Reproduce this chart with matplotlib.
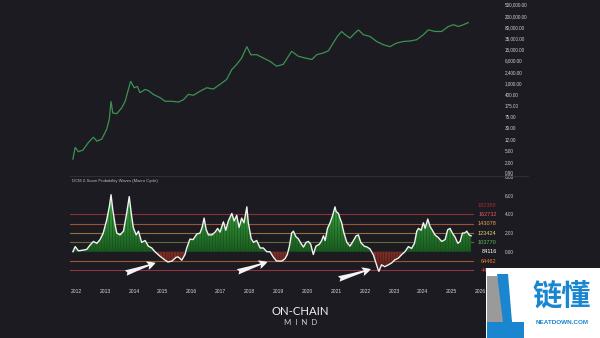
import numpy as np
import matplotlib
matplotlib.use('Agg')
import matplotlib.pyplot as plt
from matplotlib.patches import Rectangle, Polygon
from matplotlib.lines import Line2D
from matplotlib.path import Path
from matplotlib.colors import LinearSegmentedColormap

plt.rcParams['hatch.linewidth'] = 0.4

BG = '#1c1b21'

# ---------------- data ----------------
price_years = [2011.89, 2011.97, 2012.08, 2012.24, 2012.43, 2012.60, 2012.72, 2012.89, 2013.06, 2013.15,
               2013.21, 2013.27, 2013.41, 2013.58, 2013.70, 2013.81, 2013.89, 2014.01, 2014.12, 2014.21,
               2014.39, 2014.50, 2014.67, 2014.91, 2015.08, 2015.31, 2015.54, 2015.71, 2015.89, 2016.06,
               2016.29, 2016.52, 2016.75, 2016.98, 2017.21, 2017.39, 2017.56, 2017.73, 2017.91, 2018.05,
               2018.25, 2018.48, 2018.71, 2018.94, 2019.17, 2019.35, 2019.46, 2019.69, 2019.92, 2020.16,
               2020.33, 2020.56, 2020.73, 2020.90, 2021.04, 2021.19, 2021.31, 2021.48, 2021.65, 2021.77,
               2021.94, 2022.17, 2022.40, 2022.63, 2022.86, 2023.10, 2023.33, 2023.56, 2023.79, 2024.02,
               2024.19, 2024.42, 2024.65, 2024.88, 2025.06, 2025.23, 2025.40, 2025.57]
price_values = [2.7, 6.8, 4.8, 5.5, 10, 15, 11, 13, 28, 61,
                250, 100, 95, 150, 250, 630, 1200, 720, 800, 490,
                630, 580, 430, 330, 250, 250, 235, 280, 430, 400,
                550, 720, 650, 940, 1380, 3000, 4500, 7400, 18000, 9500,
                9600, 7400, 5700, 3900, 4500, 8500, 12500, 8500, 7400, 6600,
                9600, 11000, 13000, 24000, 40000, 59000, 46000, 35000, 52000, 67000,
                46000, 40000, 27000, 21000, 18000, 24000, 27000, 28000, 31000, 46000,
                67000, 59000, 59000, 87000, 100000, 87000, 100000, 118000]

z_years = [2011.89, 2011.97, 2012.08, 2012.20, 2012.37, 2012.48, 2012.60, 2012.72, 2012.83, 2012.94,
           2013.06, 2013.15, 2013.21, 2013.27, 2013.35, 2013.41, 2013.52, 2013.64, 2013.75, 2013.84,
           2013.91, 2013.98, 2014.08, 2014.16, 2014.27, 2014.39, 2014.50, 2014.62, 2014.73, 2014.91,
           2015.08, 2015.18, 2015.32, 2015.46, 2015.53, 2015.66, 2015.77, 2015.83, 2015.94, 2016.05,
           2016.18, 2016.29, 2016.37, 2016.43, 2016.50, 2016.58, 2016.70, 2016.81, 2016.90, 2016.98,
           2017.10, 2017.18, 2017.27, 2017.39, 2017.47, 2017.56, 2017.64, 2017.73, 2017.81, 2017.91,
           2017.96, 2018.06, 2018.14, 2018.25, 2018.37, 2018.48, 2018.60, 2018.71, 2018.83, 2018.94,
           2019.12, 2019.23, 2019.31, 2019.38, 2019.46, 2019.52, 2019.61, 2019.69, 2019.78, 2019.87,
           2019.96, 2020.04, 2020.12, 2020.21, 2020.30, 2020.42, 2020.50, 2020.56, 2020.62, 2020.70,
           2020.79, 2020.87, 2020.96, 2021.00, 2021.08, 2021.13, 2021.19, 2021.27, 2021.37, 2021.48,
           2021.60, 2021.69, 2021.77, 2021.85, 2021.97, 2022.07, 2022.17, 2022.29, 2022.40, 2022.45,
           2022.48, 2022.57, 2022.68, 2022.81, 2022.92, 2023.04, 2023.15, 2023.27, 2023.38, 2023.50,
           2023.61, 2023.71, 2023.79, 2023.85, 2023.94, 2024.02, 2024.08, 2024.17, 2024.25, 2024.33,
           2024.42, 2024.54, 2024.65, 2024.77, 2024.86, 2024.94, 2025.02, 2025.11, 2025.21, 2025.29,
           2025.37, 2025.45, 2025.52, 2025.60, 2025.67]
z_values = [0.0, 0.55, 0.1, 0.15, 0.25, 0.7, 1.1, 0.9, 1.3, 2.0,
            3.4, 4.8, 6.1, 4.5, 2.9, 2.0, 1.8, 2.2, 4.1, 5.9,
            4.1, 2.6, 1.8, 2.2, 1.0, 1.2, 0.6, 0.4, 0.0, -0.5,
            -0.9, -1.1, -1.0, -0.6, -0.55, -0.9, -0.3, 0.4, 1.35, 1.3,
            1.9, 2.0, 2.7, 3.6, 2.4, 1.8, 1.8, 2.1, 2.5, 2.1,
            3.2, 2.3, 3.3, 4.1, 3.3, 3.9, 2.6, 3.6, 3.1, 4.8,
            3.1, 1.4, 1.0, 1.2, 0.4, 0.4, 0.0, 0.0, -0.6, -1.0,
            -1.0, -0.75, -0.3, 0.55, 2.0, 2.2, 1.6, 1.4, 0.9, 0.5,
            1.0, 1.1, 0.8, -0.3, 0.6, 0.8, 1.2, 1.7, 1.2, 2.5,
            3.1, 3.8, 4.8, 4.3, 4.1, 3.6, 3.1, 2.0, 1.0, 0.6,
            1.2, 1.7, 1.8, 1.0, 0.6, 0.5, 0.3, -0.35, -1.4, -1.9,
            -2.1, -1.4, -1.6, -1.4, -1.2, -0.85, -0.7, -0.3, 0.0, 0.55,
            0.35, 0.9, 2.2, 2.5, 2.3, 3.1, 2.5, 3.5, 2.7, 2.3,
            1.8, 1.5, 1.1, 1.3, 2.35, 2.5, 2.0, 1.6, 0.9, 1.1,
            2.0, 2.0, 2.2, 1.8, 1.7]

price_ticks = [0.9, 2, 5, 12, 30, 75, 175, 400, 1000, 2400, 6000, 15000, 35000, 80000, 200000, 500000]
z_ticks = [0, 2, 4, 6, 8]
year_ticks = list(range(2012, 2027))

level_label_z = [5, 4, 3, 2, 1, 0, -1, -2]
level_label_text = ['182388', '162732', '143078', '123424', '103770', '84116', '64462', '44808']
level_label_colors = ['#a52a2a', '#e05a5a', '#f0a050', '#e8d070', '#5cb85c', '#ffffff', '#f08030', '#e04040']

level_line_z = [4, 3, 2, 1, -1, -2]
level_line_colors = ['#8a3236', '#9a5433', '#93703c', '#62693a', '#9a5a2c', '#8e3444']

arrow_tails = [(2013.63, -2.38), (2017.50, -2.25), (2021.00, -3.00)]
arrow_heads = [(2014.84, -1.10), (2018.71, -1.00), (2022.29, -1.78)]

title_text = 'DCM Z-Score Probability Waves (Macro Cycle)'

# ---------------- figure ----------------
W, H = 600, 338
fig = plt.figure(figsize=(6, 3.38), dpi=100, facecolor=BG)


def fx(px):
    return px / W


def fy(py):
    return 1 - py / H


XMIN, XMAX = 2011.79, 2026.67

# top price panel
ax1 = fig.add_axes([fx(70), fy(176), fx(430), 176 / H])
ax1.set_facecolor(BG)
ax1.set_yscale('log')
ax1.plot(price_years, price_values, color='#3b9253', lw=0.9, solid_joinstyle='miter')
ax1.set_xlim(XMIN, XMAX)
ax1.set_ylim(0.72, 693000)
ax1.set_yticks(price_ticks)
ax1.set_yticklabels([f'{v:,.2f}' for v in price_ticks])
ax1.minorticks_off()
ax1.yaxis.tick_right()
ax1.tick_params(axis='y', length=0, pad=3.6, labelsize=3.3, labelcolor='#cfcfcf')
ax1.tick_params(axis='x', length=0, labelbottom=False)
for lab in ax1.get_yticklabels():
    lab.set_family('Liberation Sans')
for s in ax1.spines.values():
    s.set_visible(False)

# bottom z-score panel
ax2 = fig.add_axes([fx(70), fy(286), fx(430), 109 / H])
ax2.set_facecolor(BG)
zx = np.array(z_years)
zz = np.array(z_values)
YMIN, YMAX = -3.67, 7.85
ax2.set_xlim(XMIN, XMAX)
ax2.set_ylim(YMIN, YMAX)


def gradient_fill(where, colors, vmin, vmax):
    coll = ax2.fill_between(zx, zz, 0, where=where, interpolate=True,
                            facecolor='none', edgecolor='none', lw=0)
    path = Path.make_compound_path(*coll.get_paths())
    cmap = LinearSegmentedColormap.from_list('g', colors)
    grad = np.linspace(0, 1, 256).reshape(-1, 1)
    im = ax2.imshow(grad, cmap=cmap, aspect='auto', origin='lower',
                    extent=[XMIN, XMAX, vmin, vmax], zorder=2, interpolation='bilinear')
    im.set_clip_path(path, transform=ax2.transData)
    return coll


gradient_fill(zz >= 0, ['#1a5a20', '#2e8a34', '#3a9c3e'], 0, 6.2)
gradient_fill(zz <= 0, ['#3e1715', '#6a2822', '#7e3128'], -2.2, 0)
# vertical texture
ax2.fill_between(zx, zz, 0, where=zz >= 0, interpolate=True, facecolor='none',
                 edgecolor='#164a19', hatch='||||||', lw=0, zorder=3)
ax2.fill_between(zx, zz, 0, where=zz <= 0, interpolate=True, facecolor='none',
                 edgecolor='#4a1a17', hatch='||||||', lw=0, zorder=3)

for z, c in zip(level_line_z, level_line_colors):
    ax2.axhline(z, xmin=0, xmax=(2025.72 - XMIN) / (XMAX - XMIN), color=c, lw=0.8, zorder=1)
ax2.plot(zx, zz, color='#f2f2f2', lw=1.0, zorder=4)
ax2.set_xlim(XMIN, XMAX)
ax2.set_ylim(YMIN, YMAX)
ax2.set_yticks(z_ticks)
ax2.set_yticklabels([f'{v:.2f}' for v in z_ticks])
ax2.yaxis.tick_right()
ax2.tick_params(axis='y', length=0, pad=3.6, labelsize=3.4, labelcolor='#cfcfcf')
ax2.set_xticks(year_ticks)
ax2.set_xticklabels([str(y) for y in year_ticks])
ax2.tick_params(axis='x', length=0, pad=2.5, labelsize=3.6, labelcolor='#d8d8d8')
for lab in ax2.get_yticklabels() + ax2.get_xticklabels():
    lab.set_family('Liberation Sans')
for s in ax2.spines.values():
    s.set_visible(False)

for z, t, c in zip(level_label_z, level_label_text, level_label_colors):
    ax2.text(2026.55, z, t, color=c, fontsize=4, ha='right', va='center',
             family='Liberation Sans', zorder=5)

for (tx, ty), (hx, hy) in zip(arrow_tails, arrow_heads):
    ax2.annotate('', xy=(hx, hy), xytext=(tx, ty),
                 arrowprops=dict(arrowstyle='fancy,head_length=0.7,head_width=0.7,tail_width=0.45',
                                 color='#f4f4f4', lw=0, mutation_scale=9),
                 annotation_clip=False, zorder=6)

ax2.text(0.005, 0.985, title_text, transform=ax2.transAxes, fontsize=3.0, color='#bdbdbd',
         ha='left', va='top', family='Liberation Sans')

# separator line
fig.add_artist(Line2D([fx(70), fx(528)], [fy(176), fy(176)], color='#35343b', lw=0.6))

# overlay for logos
ov = fig.add_axes([0, 0, 1, 1], zorder=10)
ov.set_xlim(0, W)
ov.set_ylim(H, 0)
ov.axis('off')
ov.patch.set_alpha(0)

ov.text(300, 311.5, 'ON-CHAIN', color='#f2f2f2', fontsize=8.2, ha='center', va='center',
        family='Lato')
ov.text(301, 322.5, 'M  I  N  D', color='#d0d0d0', fontsize=5.6, ha='center', va='center',
        family='Lato')

# watermark
ov.add_patch(Rectangle((486, 268), 114, 70, facecolor='white', edgecolor='none'))
ov.add_patch(Polygon([(487, 276), (497, 276), (512, 322), (487, 338)], closed=True,
                     facecolor='#9a9a9a', edgecolor='none'))
ov.add_patch(Polygon([(497, 274), (508, 274), (512, 322), (503, 322)], closed=True,
                     facecolor='#1a86d0', edgecolor='none'))
ov.add_patch(Rectangle((487, 322), 37, 16, facecolor='#1a86d0', edgecolor='none'))
ov.text(562, 296, '链懂', color='#1a86d0', fontsize=21, ha='center', va='center',
        family='Noto Sans CJK SC', fontweight='bold')
ov.text(562, 322, 'NEATDOWN.COM', color='#1a86d0', fontsize=4.6, ha='center', va='center',
        family='Liberation Sans', fontweight='bold')

fig.savefig('out.png', dpi=100, facecolor=BG)
